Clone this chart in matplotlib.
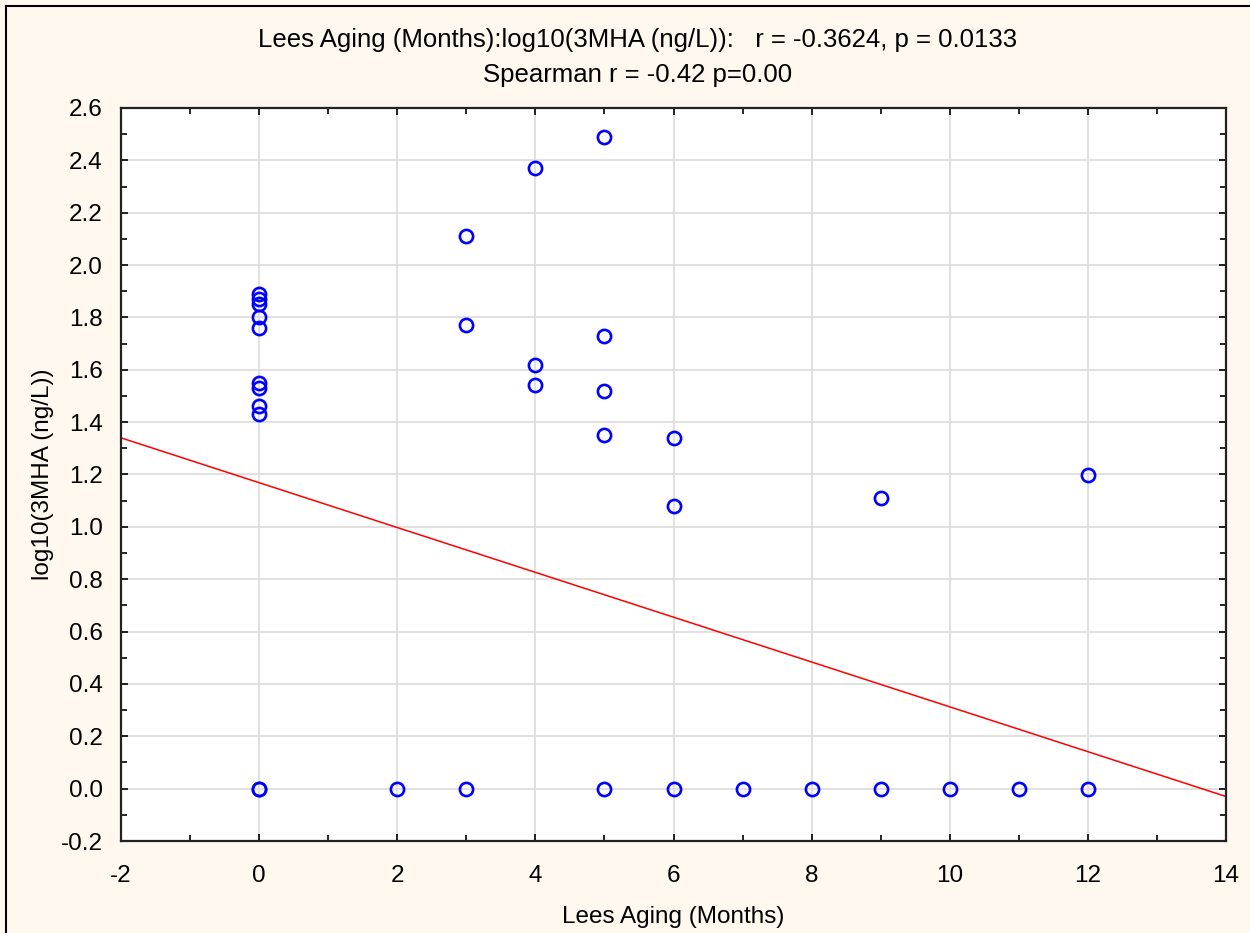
import matplotlib.pyplot as plt
from matplotlib.lines import Line2D
from matplotlib.ticker import MultipleLocator

plt.rcParams['font.family'] = ['Liberation Sans', 'DejaVu Sans']
plt.rcParams['axes.unicode_minus'] = False

# lees aging (months) and log10 of 3MHA
aging = [0, 0, 0, 0, 0, 0, 0, 0, 0, 0, 0,
         2,
         3, 3, 3,
         4, 4, 4,
         5, 5, 5, 5, 5,
         6, 6, 6,
         7, 8,
         9, 9,
         10, 11,
         12, 12]
log_3mha = [1.89, 1.87, 1.85, 1.80, 1.76, 1.55, 1.53, 1.46, 1.43, 0.0, 0.0,
            0.0,
            2.11, 1.77, 0.0,
            2.37, 1.62, 1.54,
            2.49, 1.73, 1.52, 1.35, 0.0,
            1.34, 1.08, 0.0,
            0.0, 0.0,
            1.11, 0.0,
            0.0, 0.0,
            1.20, 0.0]

# regression line as drawn in the original
fit_x = [-2, 14]
fit_y = [1.34, -0.03]

bg = '#fef8ee'
fs = 17.5
fig = plt.figure(figsize=(12.5, 9.33), dpi=100, facecolor=bg)
ax = fig.add_axes([121 / 1250, 1 - 841 / 933, (1226 - 121) / 1250, (841 - 108) / 933])
ax.set_facecolor('white')

ax.plot(fit_x, fit_y, color='red', linewidth=1.1, zorder=2)
ax.plot(aging, log_3mha, linestyle='none', marker='o', markersize=9.5,
        markerfacecolor='none', markeredgecolor='blue', markeredgewidth=1.9, zorder=3)

ax.set_xlim(-2, 14)
ax.set_ylim(-0.2, 2.6)
ax.xaxis.set_major_locator(MultipleLocator(2))
ax.xaxis.set_minor_locator(MultipleLocator(1))
ax.yaxis.set_major_locator(MultipleLocator(0.2))
ax.yaxis.set_minor_locator(MultipleLocator(0.1))
ax.set_yticks(ax.get_yticks())
ax.set_yticklabels([f'{v:.1f}' for v in ax.get_yticks()])
ax.set_ylim(-0.2, 2.6)
ax.grid(True, which='major', color='#dcdcdc', linewidth=1.2, zorder=0)
ax.set_axisbelow(True)
ax.tick_params(which='both', direction='in', top=True, right=True, labelsize=fs,
               width=1.2, colors='black')
ax.tick_params(which='major', length=5)
ax.tick_params(which='minor', length=4)
ax.tick_params(axis='x', which='major', pad=17)
ax.tick_params(axis='y', which='major', pad=13)
for s in ax.spines.values():
    s.set_linewidth(1.6)
    s.set_color('#222222')

ax.set_xlabel('Lees Aging (Months)', fontsize=fs, labelpad=14)
ax.set_ylabel('log10(3MHA (ng/L))', fontsize=fs, labelpad=5)

fig.text(0.51, 1 - 40 / 933, 'Lees Aging (Months):log10(3MHA (ng/L)):   r = -0.3624, p = 0.0133',
         ha='center', va='center', fontsize=18.5)
fig.text(0.51, 1 - 75 / 933, 'Spearman r = -0.42 p=0.00',
         ha='center', va='center', fontsize=18.5)

# outer frame (left and top edges visible in the screenshot)
fig.add_artist(Line2D([6 / 1250, 6 / 1250], [0, 1 - 6 / 933], color='black', linewidth=1.5,
                      transform=fig.transFigure))
fig.add_artist(Line2D([6 / 1250, 1], [1 - 6 / 933, 1 - 6 / 933], color='black', linewidth=1.5,
                      transform=fig.transFigure))

fig.savefig('out.png', dpi=100, facecolor=bg)
